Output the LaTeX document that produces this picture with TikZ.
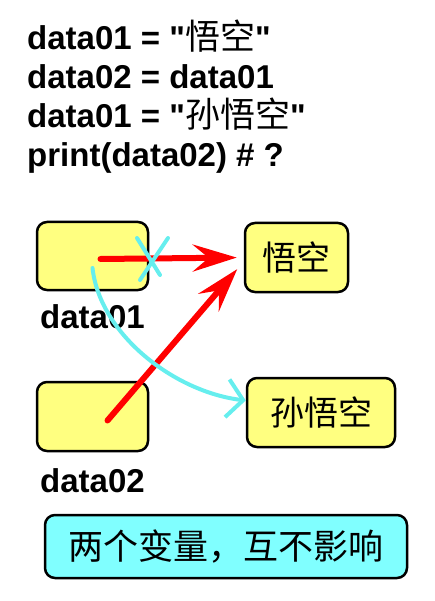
\documentclass[tikz,border=0pt]{standalone}
\usepackage{fontspec}
\setmainfont{Liberation Sans}
\newfontfamily\codefont{Liberation Sans}
\newfontfamily\cjk{Noto Sans CJK SC}
\usepackage{tikz}
\usetikzlibrary{arrows.meta}
\usetikzlibrary{positioning}
\definecolor{boxyellow}{RGB}{255,255,128}
\definecolor{notecyan}{RGB}{128,255,255}
\definecolor{markcyan}{RGB}{102,238,238}
\definecolor{arrowred}{RGB}{255,0,0}
\newcommand{\codecjk}[1]{{\mdseries\fontsize{35}{36}\selectfont\cjk #1}}
\tikzset{codeline/.style = {anchor = base west, inner sep = 0pt,
                            font = \fontsize{33}{36}\selectfont\codefont\bfseries},
         varbox/.style = {draw, line width = 2.5pt, rounded corners = 10pt,
                          fill = boxyellow},
         varname/.style = {inner sep = 0pt, font = \fontsize{33}{36}\selectfont\bfseries},
         strtext/.style = {font = \fontsize{34}{38}\selectfont\cjk},
         redarrow/.style = {draw = arrowred, line width = 6pt, line cap = round,
                            -{Stealth[length = 44pt, width = 27pt, inset = 16pt]}},
         cyanline/.style = {draw = markcyan, line width = 4pt, line cap = round}}

\begin{document}
\begin{tikzpicture}[x = 1pt, y = -1pt]
      \useasboundingbox (0, 0) rectangle (434, 601);
      % code lines
      \node [codeline] (code1) at (27, 50) {data01 = "\codecjk{悟空}"};
      \node [codeline] (code2) at (27, 89) {data02 = data01};
      \node [codeline] (code3) at (27, 128) {data01 = "\codecjk{孙悟空}"};
      \node [codeline] (code4) at (27, 167) {print(data02) \# ?};
      % variables and values
      \node [varbox, minimum width = 111pt, minimum height = 68pt] (var1) at (92.5, 256) {};
      \node [varname, below = 13pt of var1] (name1) {data01};
      \node [varbox, minimum width = 111pt, minimum height = 69pt] (var2) at (92.5, 416.5) {};
      \node [varname, below = 16pt of var2] (name2) {data02};
      \node [varbox, strtext, minimum width = 103pt, minimum height = 69pt] (str1) at (296.5, 257.5) {悟空};
      \node [varbox, strtext, minimum width = 148pt, minimum height = 69pt] (str2) at (321, 412.5) {孙悟空};
      % references
      \draw [redarrow, shorten > = 7pt] ([xshift = 8pt, yshift = -3pt]var1.center) -- (str1.west);
      \draw [redarrow, shorten > = 10pt] ([xshift = 15pt, yshift = -4pt]var2.center) -- ([yshift = -4pt]str1.west);
      \draw [cyanline] (137, 238) -- (160, 275);
      \draw [cyanline] (168, 238) -- (140, 280);
      \draw [cyanline, -{Straight Barb[length = 16pt, width = 38pt]}]
            ([yshift = -12pt]var1.center) .. controls (100, 335) and (175, 392) .. ([yshift = 12pt]str2.west);
      % note
      \node [draw, line width = 2.5pt, rounded corners = 10pt, fill = notecyan,
             minimum width = 362pt, minimum height = 63pt,
             font = \fontsize{35}{38}\selectfont\cjk] (note) at (226, 546.5) {两个变量，互不影响};
    \end{tikzpicture}
\end{document}
